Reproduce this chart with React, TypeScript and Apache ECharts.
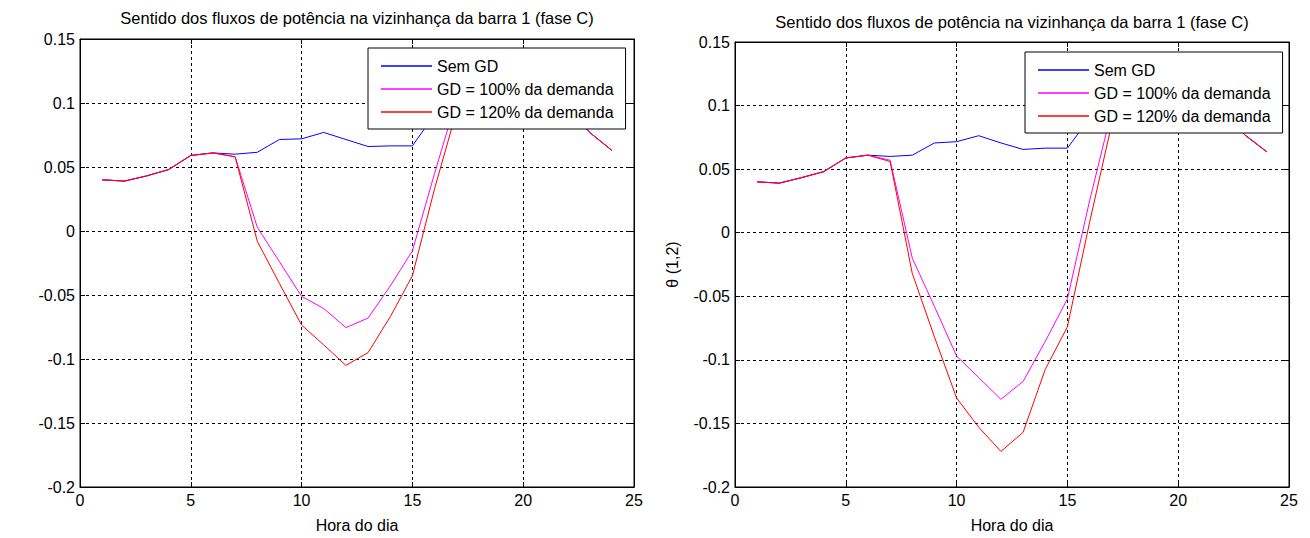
import React, { useEffect, useRef } from "react";
import * as echarts from "echarts";

// ---------- data ----------
const hours = [1, 2, 3, 4, 5, 6, 7, 8, 9, 10, 11, 12, 13, 14, 15, 16, 17, 18, 19, 20, 21, 22, 23, 24];

// left panel
const semGdLeft = [0.040, 0.039, 0.043, 0.048, 0.059, 0.061, 0.060, 0.0615, 0.0715, 0.072, 0.077, 0.0715, 0.066, 0.0665, 0.0665, 0.091, 0.108, 0.115, 0.118, 0.115, 0.108, 0.097, 0.077, 0.063];
const gd100Left = [0.040, 0.039, 0.043, 0.048, 0.059, 0.061, 0.058, 0.003, -0.024, -0.051, -0.0606, -0.0755, -0.068, -0.043, -0.0155, 0.045, 0.103, 0.113, 0.118, 0.115, 0.108, 0.097, 0.077, 0.063];
const gd120Left = [0.040, 0.039, 0.043, 0.048, 0.059, 0.061, 0.058, -0.008, -0.041, -0.0735, -0.089, -0.105, -0.095, -0.067, -0.035, 0.033, 0.094, 0.110, 0.117, 0.115, 0.108, 0.097, 0.077, 0.063];

// right panel
const semGdRight = [0.040, 0.039, 0.0433, 0.048, 0.0588, 0.061, 0.060, 0.061, 0.0706, 0.0716, 0.0763, 0.0706, 0.0655, 0.0665, 0.0665, 0.090, 0.108, 0.115, 0.118, 0.115, 0.108, 0.097, 0.077, 0.0636];
const gd100Right = [0.040, 0.039, 0.0433, 0.048, 0.0588, 0.061, 0.057, -0.020, -0.058, -0.097, -0.114, -0.131, -0.117, -0.0855, -0.052, 0.025, 0.096, 0.112, 0.118, 0.115, 0.108, 0.097, 0.077, 0.0636];
const gd120Right = [0.040, 0.039, 0.0433, 0.048, 0.0588, 0.061, 0.056, -0.032, -0.082, -0.130, -0.153, -0.172, -0.157, -0.1075, -0.074, 0.008, 0.0855, 0.110, 0.117, 0.115, 0.108, 0.097, 0.077, 0.0636];

const X_MIN = 0;
const X_MAX = 25;
const X_STEP = 5;
const Y_MIN = -0.2;
const Y_MAX = 0.15;
const Y_STEP = 0.05;

const TITLE = "Sentido dos fluxos de potência na vizinhança da barra 1 (fase C)";
const X_NAME = "Hora do dia";
const Y_NAME = "θ (1,2)";
const SERIES_NAMES = ["Sem GD", "GD = 100% da demanda", "GD = 120% da demanda"];
const COLORS = ["#0000ff", "#ff00ff", "#ff0000"];

const FONT = "'Liberation Sans', Arial, Helvetica, sans-serif";

export default function App() {
  const ref = useRef<HTMLDivElement>(null);

  useEffect(() => {
    document.body.style.margin = "0";
    const chart = echarts.init(ref.current as HTMLDivElement, null, { renderer: "svg" });

    const panels = [
      { left: 80, top: 39, width: 554, height: 451, data: [semGdLeft, gd100Left, gd120Left], legendLeft: 368, legendTop: 48, yName: "", titleX: 357, titleY: 18 },
      { left: 735, top: 42, width: 554, height: 450, data: [semGdRight, gd100Right, gd120Right], legendLeft: 1025, legendTop: 52, yName: Y_NAME, titleX: 1012, titleY: 22 },
    ];

    const grids: any[] = [];
    const xAxes: any[] = [];
    const yAxes: any[] = [];
    const series: any[] = [];
    const legends: any[] = [];
    const graphics: any[] = [];

    const fmtY = (v: number) => String(parseFloat(v.toFixed(2)));

    panels.forEach((p, gi) => {
      grids.push({
        left: p.left,
        top: p.top,
        width: p.width,
        height: p.height,
        show: true,
        borderColor: "#000",
        borderWidth: 1,
        backgroundColor: "#fff",
        containLabel: false,
      });
      const axisCommon = {
        gridIndex: gi,
        axisLine: { show: true, onZero: false, lineStyle: { color: "#000", width: 1 } },
        axisTick: { show: true, inside: true, length: 5, lineStyle: { color: "#000" } },
      };
      xAxes.push({
        ...axisCommon,
        type: "value",
        position: "bottom",
        min: X_MIN,
        max: X_MAX,
        interval: X_STEP,
        axisLabel: { color: "#000", fontSize: 16, fontFamily: FONT, margin: 5 },
        splitLine: { show: true, lineStyle: { color: "#000", type: [3, 3], width: 1 } },
        name: X_NAME,
        nameLocation: "middle",
        nameGap: 30,
        nameTextStyle: { color: "#000", fontSize: 16, fontFamily: FONT },
      });
      xAxes.push({
        ...axisCommon,
        type: "value",
        position: "top",
        min: X_MIN,
        max: X_MAX,
        interval: X_STEP,
        axisLabel: { show: false },
        splitLine: { show: false },
      });
      yAxes.push({
        ...axisCommon,
        type: "value",
        position: "left",
        min: Y_MIN,
        max: Y_MAX,
        interval: Y_STEP,
        axisLabel: { color: "#000", fontSize: 16, fontFamily: FONT, margin: 5, formatter: fmtY },
        splitLine: { show: true, lineStyle: { color: "#000", type: [3, 3], width: 1 } },
        name: p.yName,
        nameLocation: "middle",
        nameRotate: 90,
        nameGap: 55,
        nameTextStyle: { color: "#000", fontSize: 16, fontFamily: FONT },
      });
      yAxes.push({
        ...axisCommon,
        type: "value",
        position: "right",
        min: Y_MIN,
        max: Y_MAX,
        interval: Y_STEP,
        axisLabel: { show: false },
        splitLine: { show: false },
      });

      p.data.forEach((arr, si) => {
        series.push({
          type: "line",
          name: SERIES_NAMES[si],
          xAxisIndex: gi * 2,
          yAxisIndex: gi * 2,
          data: hours.map((h, i) => [h, arr[i]]),
          symbol: "none",
          showSymbol: false,
          lineStyle: { color: COLORS[si], width: 1 },
          itemStyle: { color: COLORS[si] },
          z: 2 + si,
        });
      });

      legends.push({
        data: SERIES_NAMES.map((n) => ({ name: n, icon: "rect" })),
        orient: "vertical",
        left: p.legendLeft,
        top: p.legendTop,
        itemWidth: 51,
        itemHeight: 1.3,
        itemGap: 5,
        padding: [9, 12, 8, 13],
        selectedMode: false,
        backgroundColor: "#fff",
        borderColor: "#000",
        borderWidth: 1,
        borderRadius: 0,
        textStyle: { color: "#000", fontSize: 16, fontFamily: FONT, lineHeight: 18 },
        z: 10,
      });

      graphics.push({
        type: "text",
        x: p.titleX,
        y: p.titleY,
        style: {
          text: TITLE,
          fill: "#000",
          font: `16.5px ${FONT}`,
          textAlign: "center",
          textVerticalAlign: "middle",
        },
      });
    });

    chart.setOption({
      animation: false,
      backgroundColor: "#fff",
      grid: grids,
      xAxis: xAxes,
      yAxis: yAxes,
      series,
      legend: legends,
      graphic: graphics,
    });

    return () => {
      chart.dispose();
    };
  }, []);

  return <div ref={ref} style={{ width: 1310, height: 538 }} />;
}
